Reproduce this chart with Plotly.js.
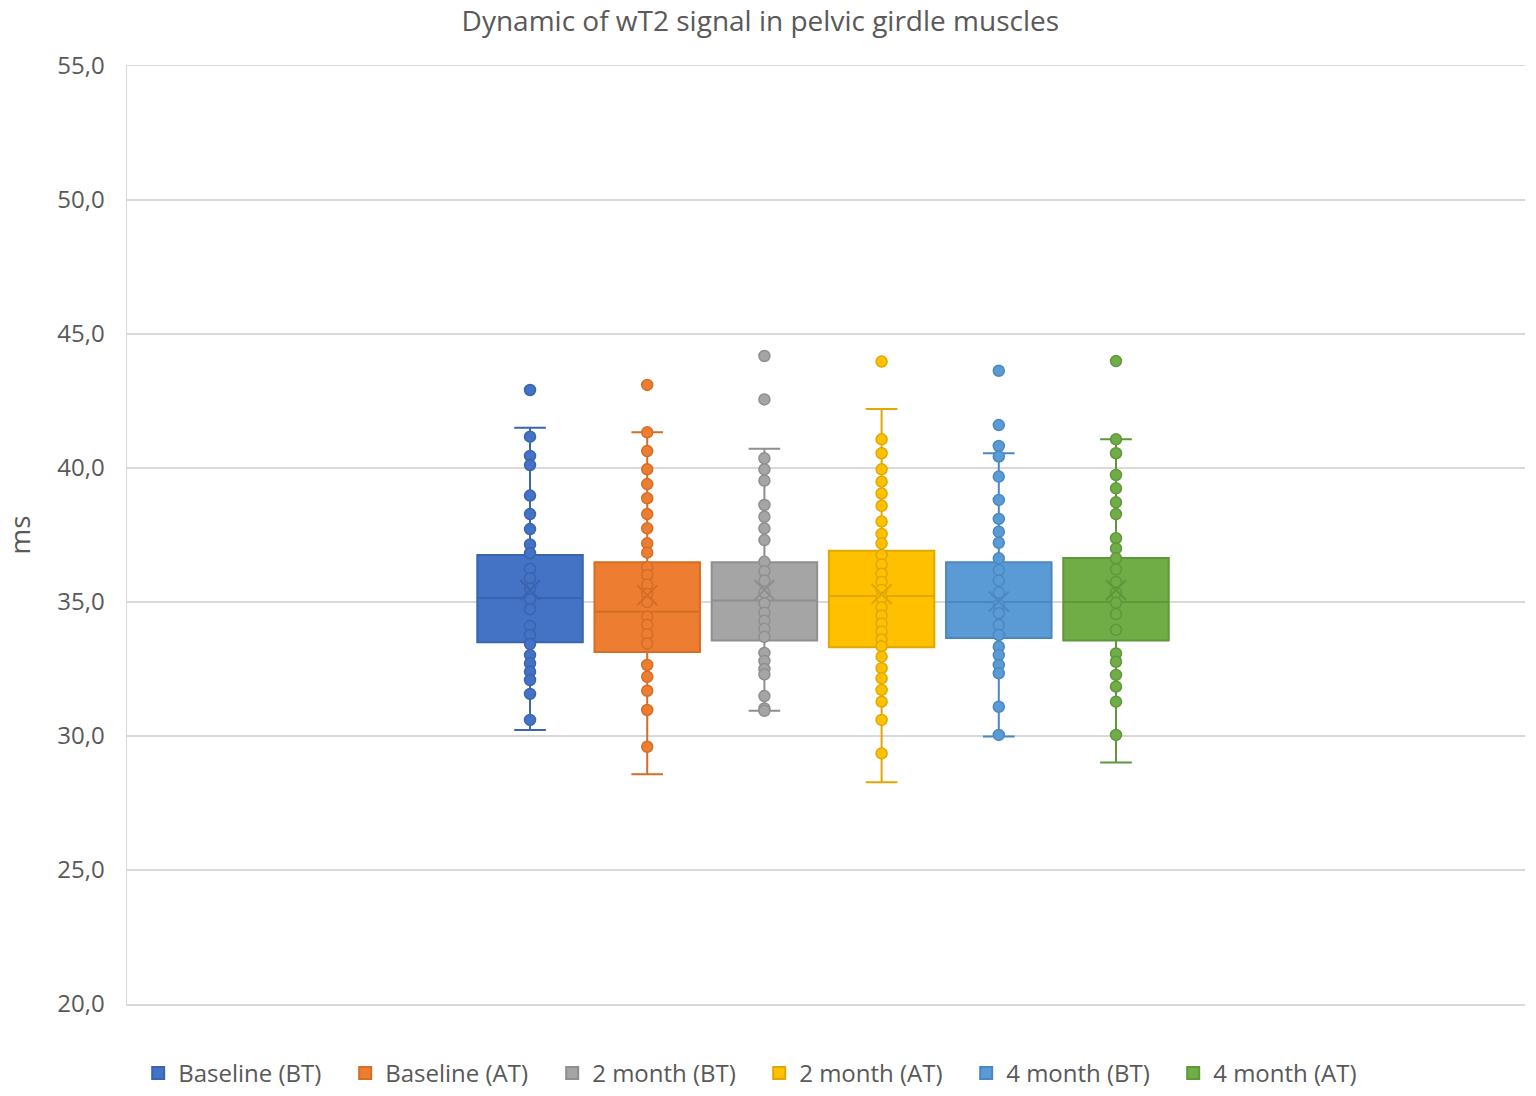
<!DOCTYPE html>
<html>
<head>
<meta charset="utf-8">
<script src="https://cdn.plot.ly/plotly-3.0.1.min.js"></script>
<style>
  html, body { margin: 0; padding: 0; background: #fff; }
  #chart { width: 1536px; height: 1096px; }
</style>
</head>
<body>
<div id="chart"></div>
<script>
// series
var seriesNames = ['Baseline (BT)', 'Baseline (AT)', '2 month (BT)', '2 month (AT)', '4 month (BT)', '4 month (AT)'];
var fillColors = ['#4472C4', '#ED7D31', '#A5A5A5', '#FFC000', '#5B9BD5', '#70AD47'];
var lineColors = ['#3A64B0', '#D46E27', '#8F8F8F', '#E0A800', '#4B88C2', '#5F973B'];

// box statistics (ms)
var q1Vals = [33.5, 33.13, 33.56, 33.31, 33.66, 33.56];
var medianVals = [35.15, 34.64, 35.06, 35.22, 35.0, 35.0];
var q3Vals = [36.75, 36.48, 36.48, 36.91, 36.48, 36.64];
var lowerWhisker = [30.22, 28.57, 30.94, 28.27, 29.98, 29.01];
var upperWhisker = [41.5, 41.33, 40.72, 42.2, 40.55, 41.07];
var meanVals = [35.45, 35.25, 35.45, 35.3, 35.02, 35.45];

// individual points
var ptsBaselineBT = [42.91, 41.17, 40.45, 40.11, 38.97, 38.28, 37.72, 37.15, 36.82,
  36.24, 35.88, 35.5, 35.1, 34.73, 34.1, 33.77,
  33.43, 33.02, 32.71, 32.4, 32.09, 31.57, 30.6];
var ptsBaselineAT = [43.1, 41.33, 40.63, 39.95, 39.4, 38.87, 38.28, 37.75, 37.19, 36.84,
  36.3, 36.0, 35.65, 35.3, 35.0, 34.45, 34.15, 33.8, 33.45,
  32.65, 32.21, 31.69, 30.97, 29.6];
var pts2mBT = [44.18, 42.56, 40.36, 39.95, 39.53, 38.62, 38.18, 37.75, 37.31, 36.5,
  36.15, 35.8, 35.35, 34.95, 34.6, 34.3, 34.0, 33.7,
  33.1, 32.8, 32.5, 32.3, 31.49, 31.03, 30.94];
var pts2mAT = [43.97, 41.07, 40.55, 39.95, 39.49, 39.05, 38.59, 38.0, 37.54, 37.19,
  36.75, 36.4, 36.05, 35.75, 35.45, 35.15, 34.8, 34.5, 34.2, 33.9, 33.6, 33.35,
  32.96, 32.53, 32.15, 31.72, 31.28, 30.6, 29.35];
var pts4mBT = [43.63, 41.6, 40.82, 40.43, 39.68, 38.81, 38.1, 37.62, 37.21, 36.63,
  36.19, 35.8, 35.35, 34.9, 34.58, 34.14, 33.77,
  33.33, 33.02, 32.65, 32.34, 31.09, 30.04];
var pts4mAT = [43.99, 41.07, 40.55, 39.74, 39.24, 38.72, 38.28, 37.38, 37.0,
  36.63, 36.22, 35.75, 35.35, 34.97, 34.55, 33.96,
  33.08, 32.77, 32.28, 31.84, 31.28, 30.04];
var allPoints = [ptsBaselineBT, ptsBaselineAT, pts2mBT, pts2mAT, pts4mBT, pts4mAT];

var yTicks = [20, 25, 30, 35, 40, 45, 50, 55];

var traces = [];
// boxes first so points sit on top
for (var i = 0; i < seriesNames.length; i++) {
  traces.push({
    type: 'box',
    name: seriesNames[i],
    x: [i],
    q1: [q1Vals[i]],
    median: [medianVals[i]],
    q3: [q3Vals[i]],
    lowerfence: [lowerWhisker[i]],
    upperfence: [upperWhisker[i]],
    boxpoints: false,
    width: 0.9,
    whiskerwidth: 0.3,
    fillcolor: fillColors[i],
    line: { color: lineColors[i], width: 2 },
    hoverinfo: 'skip'
  });
}
for (var j = 0; j < seriesNames.length; j++) {
  var xs = allPoints[j].map(function() { return j; });
  traces.push({
    type: 'scatter',
    mode: 'markers',
    x: xs,
    y: allPoints[j],
    showlegend: false,
    hoverinfo: 'skip',
    marker: { size: 11, color: fillColors[j], line: { color: lineColors[j], width: 1.5 } }
  });
}
// mean markers
for (var k = 0; k < seriesNames.length; k++) {
  traces.push({
    type: 'scatter',
    mode: 'markers',
    x: [k],
    y: [meanVals[k]],
    showlegend: false,
    hoverinfo: 'skip',
    marker: { symbol: 'x-thin-open', size: 20, color: lineColors[k], line: { color: lineColors[k], width: 2 } }
  });
}

var layout = {
  width: 1536,
  height: 1096,
  paper_bgcolor: '#ffffff',
  plot_bgcolor: '#ffffff',
  separators: ', ',
  font: { family: 'Open Sans, Noto Sans, sans-serif', color: '#595959' },
  title: {
    text: 'Dynamic of wT2 signal in pelvic girdle muscles',
    font: { size: 28, color: '#595959' },
    x: 0.495, xanchor: 'center',
    y: 0.981, yanchor: 'middle'
  },
  margin: { l: 127, r: 11, t: 66, b: 92, autoexpand: false },
  showlegend: true,
  legend: {
    orientation: 'h',
    x: 0.008, xanchor: 'left',
    y: -0.074, yanchor: 'middle',
    font: { size: 24, color: '#595959' },
    entrywidth: 162,
    entrywidthmode: 'pixels',
    traceorder: 'normal'
  },
  xaxis: {
    range: [-3.439, 8.49],
    showgrid: false,
    zeroline: false,
    showticklabels: false,
    showline: true,
    mirror: true,
    linecolor: '#d9d9d9',
    linewidth: 1.5,
    fixedrange: true
  },
  yaxis: {
    range: [20, 55],
    tickvals: yTicks,
    tickformat: '.1f',
    showgrid: true,
    gridcolor: '#d9d9d9',
    gridwidth: 1.5,
    zeroline: false,
    showline: true,
    linecolor: '#d9d9d9',
    linewidth: 1.5,
    ticks: '',
    ticklabelstandoff: 16,
    tickfont: { size: 24, color: '#595959' },
    title: { text: 'ms', font: { size: 28, color: '#595959' }, standoff: 26 }
  },
  hovermode: false
};

Plotly.newPlot('chart', traces, layout, { displayModeBar: false, staticPlot: true });
</script>
</body>
</html>
